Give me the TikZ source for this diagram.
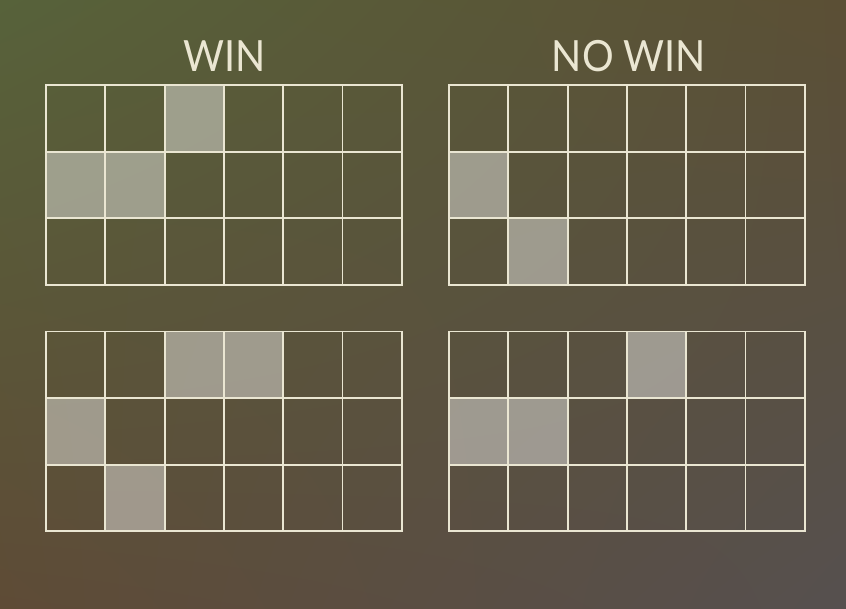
\documentclass[tikz,border=0pt]{standalone}
\usepackage{fontspec}
\setsansfont{Lato}[FakeStretch=0.92]
\usetikzlibrary{positioning, shadings}

\definecolor{bgtl}{HTML}{57623A}
\definecolor{bgtr}{HTML}{5B4F35}
\definecolor{bgbl}{HTML}{5E4B36}
\definecolor{bgbr}{HTML}{56504F}
\definecolor{linecream}{HTML}{EAE6D2}

\begin{document}
\begin{tikzpicture}[
    x=1pt, y=-1pt,
    gridline/.style={draw=linecream, line width=1.8pt, line cap=rect},
    hit/.style={fill=white, fill opacity=0.42},
    heading/.style={text=linecream, font=\sffamily\fontsize{43}{43}\selectfont, inner sep=0pt}
]
% background
\shade[upper left=bgtl, upper right=bgtr, lower left=bgbl, lower right=bgbr]
    (0,0) rectangle (846,608);
\useasboundingbox (0,0) rectangle (846,608);

\node[heading] (win) at (225,56) {WIN};
\node[heading] (nowin) at (629,56) {NO WIN};

% four boards: origin x / origin y / lit cells (column/row)
\foreach \gx/\gy/\cells in {46/85/{2/0,0/1,1/1}, 449/85/{0/1,1/2},
                            46/331.5/{2/0,3/0,0/1,1/2}, 449/331.5/{3/0,0/1,1/1}} {
    \foreach \c/\r in \cells
        \fill[hit] (\gx+\c*59.3, \gy+\r*66.6) rectangle ++(59.3,66.6);
    \foreach \c in {0,...,6}
        \draw[gridline] (\gx+\c*59.3, \gy) -- ++(0,199.8);
    \foreach \r in {0,...,3}
        \draw[gridline] (\gx, \gy+\r*66.6) -- ++(355.8,0);
}
\end{tikzpicture}
\end{document}
